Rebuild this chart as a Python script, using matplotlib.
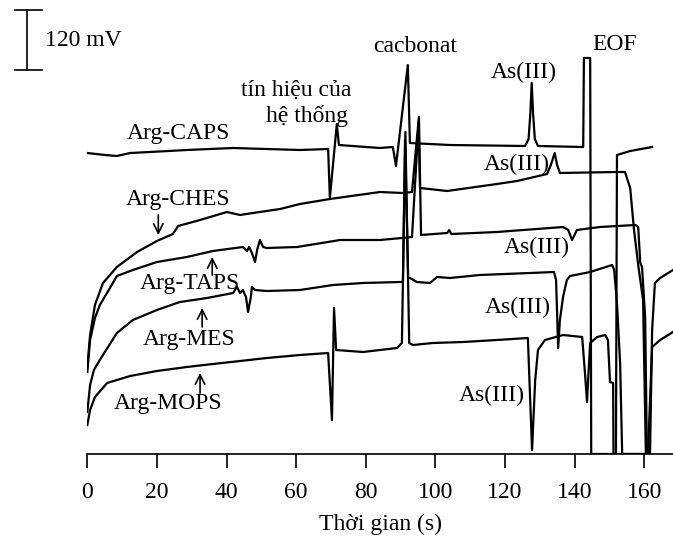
import matplotlib
matplotlib.use('Agg')
import matplotlib.pyplot as plt

plt.rcParams['font.family'] = ['Liberation Serif', 'DejaVu Serif']
plt.rcParams['font.size'] = 17

# electropherograms, time in s, signal in mV (traces already offset)
caps_t = [0, 5.1, 8.5, 12.3, 18.0, 28.6, 41.9, 61.1, 69.2, 69.7, 71.7, 72.3, 84.1, 87.8, 88.7, 92.1, 92.7,
          104.2, 125.8, 126.8, 127.3, 127.7, 128.1, 128.6, 129.5, 142.5, 142.7, 144.5, 144.8, 151.9, 152.2,
          156.0, 162.3]
caps_v = [602, 598, 596, 602, 604, 608, 612, 608, 610, 512, 660, 618, 612, 614, 576, 778, 622,
          618, 616, 630, 680, 742, 680, 630, 616, 614, 792, 792, 0, 0, 598,
          606, 614]

ches_t = [0, 0.8, 2.2, 4.5, 8.5, 14.3, 20.0, 24.6, 26.1, 32.4, 40.1, 43.9, 47.6, 55.4, 61.1, 69.7, 84.1,
          90.7, 93.3, 95.2, 95.6, 103.4, 117.7, 123.5, 132.1, 133.2, 134.3, 135.0, 135.8, 152.2, 154.5,
          156.0, 157.1, 158.3, 159.7, 160.5]
ches_v = [172, 238, 298, 342, 374, 404, 426, 440, 456, 468, 484, 478, 482, 490, 500, 510, 524,
          522, 524, 668, 532, 526, 540, 546, 560, 578, 602, 578, 562, 564, 564,
          532, 448, 378, 308, 0]

taps_t = [0, 0.8, 2.2, 3.6, 6.5, 8.5, 13.1, 20.0, 28.6, 36.1, 44.7, 45.9, 46.5, 47.3, 48.2, 48.8, 49.6,
          50.5, 51.6, 60.3, 72.6, 84.1, 90.4, 93.3, 95.3, 95.9, 103.4, 104.0, 104.6, 117.7, 136.7, 138.2,
          139.3, 140.7, 147.3, 157.5, 158.3, 158.9, 159.4, 160.3, 160.8]
taps_v = [164, 228, 272, 298, 332, 356, 368, 384, 394, 406, 414, 406, 414, 402, 384, 408, 428,
          414, 412, 414, 428, 428, 432, 434, 674, 438, 442, 448, 440, 444, 454, 448,
          428, 448, 454, 458, 454, 382, 374, 274, 0]

mes_t = [0, 0.8, 1.9, 3.6, 8.5, 13.1, 20.0, 26.6, 34.4, 41.9, 43.0, 43.9, 44.7, 45.6, 46.2, 47.0, 47.3,
         48.2, 51.6, 61.1, 70.6, 79.2, 89.9, 90.7, 91.3, 92.2, 92.7, 94.7, 98.5, 100.5, 104.2, 112.8,
         127.2, 134.1, 134.7, 135.3, 135.8, 136.7, 137.8, 138.7, 144.5, 150.8, 151.4, 152.2, 153.1,
         153.7, 161.7, 162.3, 163.1, 164.6, 168.3]
mes_v = [84, 138, 168, 188, 242, 268, 288, 304, 312, 322, 334, 322, 328, 314, 284, 314, 334,
         328, 326, 328, 338, 342, 344, 344, 628, 352, 352, 344, 342, 354, 352, 358,
         362, 364, 348, 212, 268, 314, 348, 356, 364, 378, 368, 302, 182,
         0, 0, 248, 342, 352, 368]

mops_t = [0, 0.8, 2.2, 5.7, 12.3, 20.0, 28.6, 36.1, 43.9, 51.6, 61.1, 69.2, 70.3, 70.9, 71.5, 79.2,
          89.0, 90.4, 91.4, 92.5, 93.6, 99.3, 108.0, 117.7, 126.6, 127.8, 128.7, 129.5, 131.5, 136.7,
          142.2, 143.0, 143.6, 143.9, 144.5, 146.5, 148.8, 149.6, 150.2, 151.1, 151.2, 161.1, 161.7,
          162.3, 164.6, 168.3]
mops_v = [58, 88, 114, 142, 156, 166, 174, 180, 186, 192, 198, 202, 68, 292, 208, 204,
          212, 222, 644, 222, 218, 222, 224, 228, 232, 8, 148, 208, 228, 238,
          234, 162, 104, 148, 222, 234, 238, 228, 144, 142, 0, 0, 108,
          214, 228, 244]

traces = [(caps_t, caps_v), (ches_t, ches_v), (taps_t, taps_v), (mes_t, mes_v), (mops_t, mops_v)]

names = ['Arg-CAPS', 'Arg-CHES', 'Arg-TAPS', 'Arg-MES', 'Arg-MOPS']
name_pos = [(26.1, 642), (26.1, 508), (29.5, 342), (29.2, 228), (23.2, 102)]
# arrows: (x, tail, tip)
arrows = [(20.4, 478, 438), (35.9, 358, 394), (33.0, 254, 292), (32.4, 122, 162)]
as_pos = [(125.5, 764), (123.5, 580), (129.2, 414), (123.8, 294), (116.3, 118)]

fig = plt.figure(figsize=(6.73, 5.38), dpi=100)
ax = fig.add_axes([87.3 / 673, 84 / 538, 1 - 87.3 / 673, 454 / 538])

for t, v in traces:
    ax.plot(t, v, color='black', lw=1.6, solid_joinstyle='round')

for n, (x, y) in zip(names, name_pos):
    ax.text(x, y, n, ha='center', va='center')
for x, y0, y1 in arrows:
    ax.annotate('', xy=(x, y1), xytext=(x, y0),
                arrowprops=dict(arrowstyle='->', color='black', lw=1.2, shrinkA=0, shrinkB=0))
for x, y in as_pos:
    ax.text(x, y, 'As(III)', ha='center', va='center')

ax.text(60.0, 728, 'tín hiệu của', ha='center', va='center')
ax.text(63.1, 676, 'hệ thống', ha='center', va='center')
ax.text(94.2, 816, 'cacbonat', ha='center', va='center')
ax.text(151.6, 818, 'EOF', ha='center', va='center')

# scale bar 120 mV
ax.plot([-17.3, -17.3], [768, 888], color='black', lw=1.2, clip_on=False)
ax.plot([-20.8, -13.0], [888, 888], color='black', lw=1.2, clip_on=False)
ax.plot([-20.8, -13.0], [768, 768], color='black', lw=1.2, clip_on=False)
ax.text(-12.2, 828, '120 mV', ha='left', va='center')

ax.set_xlim(0, 168.3)
ax.set_ylim(0, 908)
for s in ['left', 'right', 'top']:
    ax.spines[s].set_visible(False)
ax.spines['bottom'].set_linewidth(1.2)
ax.set_yticks([])
ax.set_xticks(range(0, 161, 20))
ax.tick_params(axis='x', direction='out', length=10, width=1.2, pad=10, labelsize=17)
ax.set_xlabel('Thời gian (s)', labelpad=8)

fig.savefig('out.png', dpi=100)
